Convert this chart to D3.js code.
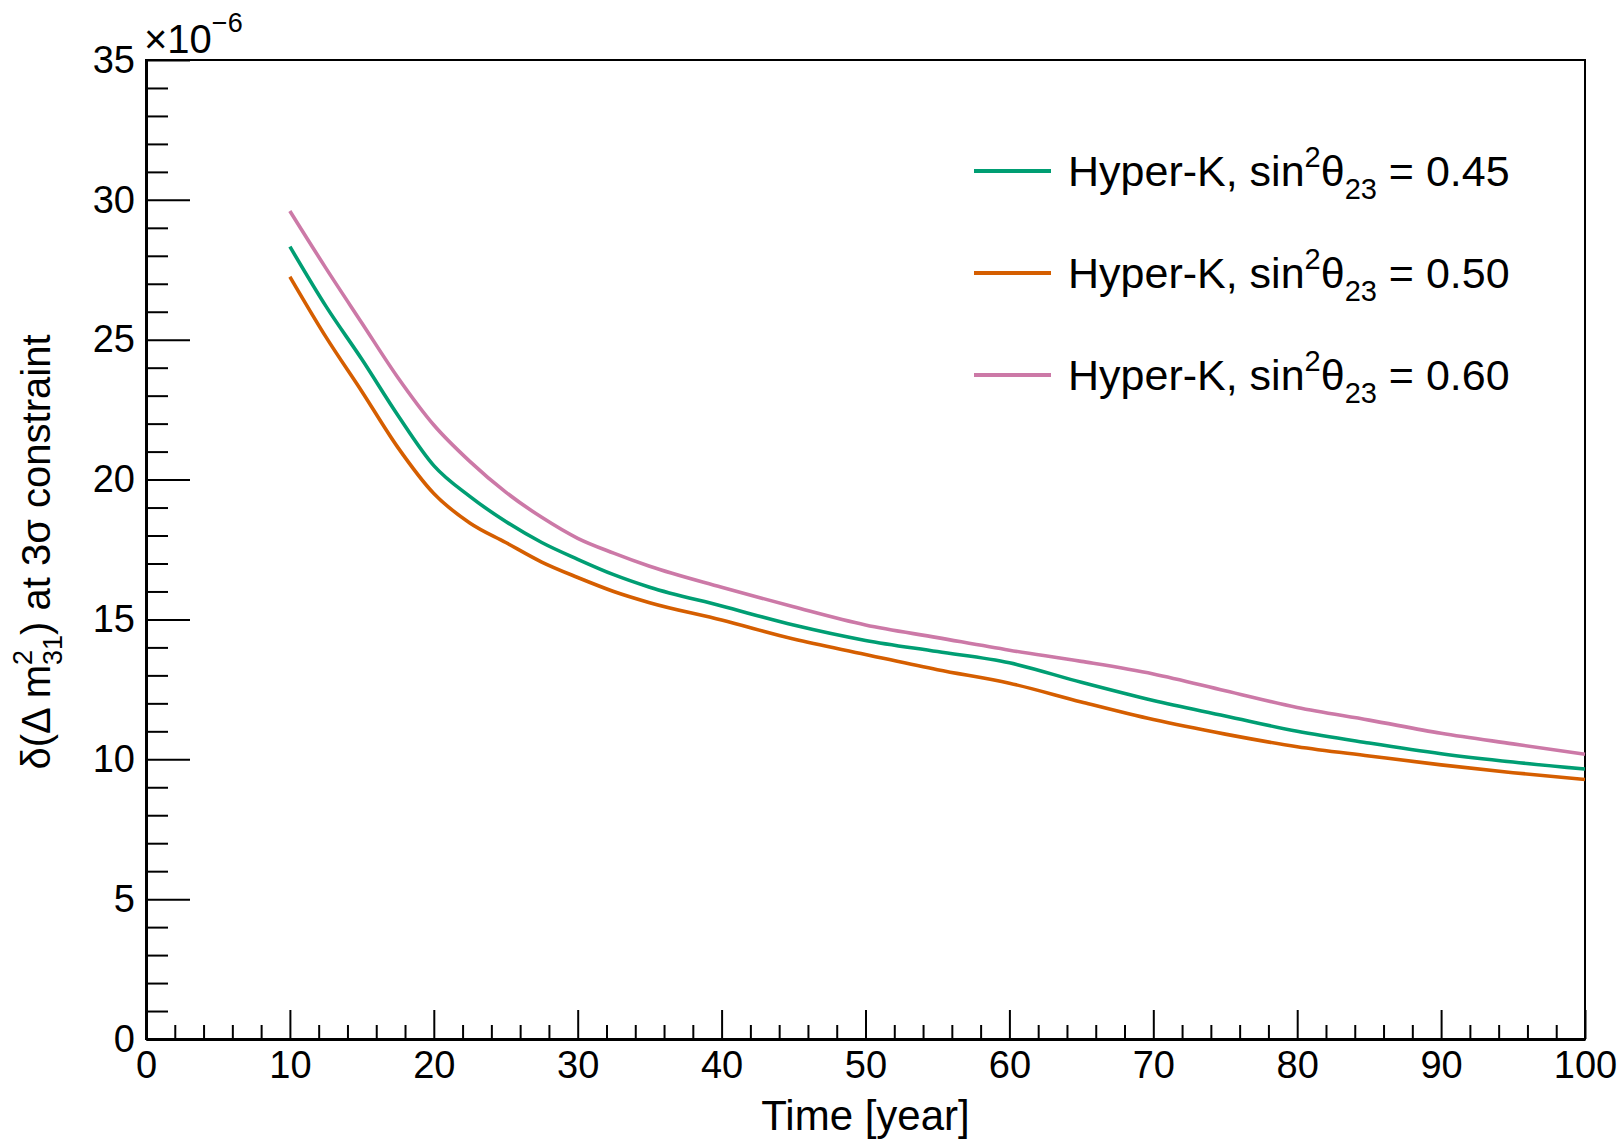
<!DOCTYPE html>
<html lang="en">
<head>
  <meta charset="UTF-8">
  <title>Hyper-K dm31 constraint</title>
  <style>
    body { margin: 0; background: #fff; }
    svg { display: block; font-family: "Liberation Sans", Arial, Helvetica, sans-serif; }
    .axis path, .axis line { stroke: #000; }
    .axis text { font-size: 38px; fill: #000; }
    .curve { fill: none; stroke-width: 3.6px; stroke-linejoin: round; }
  </style>
</head>
<body>
  <div id="chart"></div>

  <script src="https://d3js.org/d3.v7.min.js"></script>
  <script>
    // exposure time [year]
    const years = [10, 12.5, 15, 17.5, 20, 22.5, 25, 27.5, 30, 32.5, 35, 40, 45, 50,
                   55, 60, 65, 70, 75, 80, 85, 90, 95, 100];

    // delta(dm31^2) at 3 sigma, in units of 1e-6
    const s045 = [28.33, 26.2, 24.3, 22.3, 20.5, 19.4, 18.5, 17.75, 17.15, 16.6, 16.15, 15.48,
                  14.8, 14.25, 13.85, 13.45, 12.75, 12.1, 11.55, 11.0, 10.58, 10.2, 9.9, 9.65];
    const s050 = [27.25, 25.1, 23.15, 21.15, 19.5, 18.45, 17.75, 17.05, 16.5, 16.0, 15.6, 14.98,
                  14.3, 13.75, 13.2, 12.72, 12.05, 11.42, 10.9, 10.45, 10.12, 9.8, 9.52, 9.28];
    const s060 = [29.6, 27.56, 25.6, 23.65, 21.95, 20.65, 19.55, 18.65, 17.9, 17.37, 16.9, 16.15,
                  15.45, 14.8, 14.35, 13.9, 13.5, 13.05, 12.45, 11.85, 11.4, 10.93, 10.55, 10.18];

    const seriesNames = ["0.45", "0.50", "0.60"];
    const seriesColors = ["#009e73", "#d55e00", "#cc79a7"];

    const xMajor = d3.range(0, 101, 10);
    const xMinor = d3.range(0, 101, 2).filter(d => d % 10 !== 0);
    const yMajor = d3.range(0, 36, 5);
    const yMinor = d3.range(0, 36, 1).filter(d => d % 5 !== 0);

    const width = 1624, height = 1142;
    const pad = { left: 146, right: 1585, top: 60, bottom: 1039 };

    const svg = d3.select("#chart").append("svg")
      .attr("width", width)
      .attr("height", height);

    const x = d3.scaleLinear().domain([0, 100]).range([pad.left, pad.right]);
    const y = d3.scaleLinear().domain([0, 35]).range([pad.bottom, pad.top]);

    // frame
    svg.append("rect")
      .attr("x", pad.left).attr("y", pad.top)
      .attr("width", pad.right - pad.left).attr("height", pad.bottom - pad.top)
      .attr("fill", "none").attr("stroke", "#000").attr("stroke-width", 2);

    // x axis
    svg.append("g").attr("class", "axis")
      .attr("transform", `translate(0,${pad.bottom})`)
      .call(d3.axisBottom(x).tickValues(xMinor).tickSize(-14).tickFormat(""))
      .call(g => g.select(".domain").remove())
      .selectAll("line").attr("stroke-width", 2);
    svg.append("g").attr("class", "axis")
      .attr("transform", `translate(0,${pad.bottom})`)
      .call(d3.axisBottom(x).tickValues(xMajor).tickSize(-29).tickSizeOuter(0).tickPadding(12))
      .call(g => g.select(".domain").attr("stroke-width", 3))
      .call(g => g.selectAll("line").attr("stroke-width", 2));

    // y axis
    svg.append("g").attr("class", "axis")
      .attr("transform", `translate(${pad.left},0)`)
      .call(d3.axisLeft(y).tickValues(yMinor).tickSize(-22).tickFormat(""))
      .call(g => g.select(".domain").remove())
      .selectAll("line").attr("stroke-width", 2);
    svg.append("g").attr("class", "axis")
      .attr("transform", `translate(${pad.left},0)`)
      .call(d3.axisLeft(y).tickValues(yMajor).tickSize(-44).tickSizeOuter(0).tickPadding(11))
      .call(g => g.select(".domain").attr("stroke-width", 3))
      .call(g => g.selectAll("line").attr("stroke-width", 2));

    // exponent label
    const expo = svg.append("text")
      .attr("x", pad.left - 2).attr("y", 53)
      .attr("font-size", 40);
    expo.append("tspan").text("×10");
    expo.append("tspan").attr("font-size", 27).attr("dy", -21).text("−6");

    // axis titles
    svg.append("text")
      .attr("x", (pad.left + pad.right) / 2).attr("y", 1130)
      .attr("text-anchor", "middle")
      .attr("font-size", 42)
      .text("Time [year]");

    const yt = svg.append("text")
      .attr("transform", "translate(50,552) rotate(-90)")
      .attr("text-anchor", "middle")
      .attr("font-size", 40);
    yt.append("tspan").text("δ(Δ m");
    yt.append("tspan").attr("font-size", 27).attr("dy", -18).text("2");
    yt.append("tspan").attr("font-size", 27).attr("dx", -15).attr("dy", 30).text("31");
    yt.append("tspan").attr("dy", -12).text(") at 3σ constraint");

    // curves
    const line = d3.line()
      .x(d => x(d[0]))
      .y(d => y(d[1]))
      .curve(d3.curveMonotoneX);

    [s045, s050, s060].forEach((vals, i) => {
      svg.append("path")
        .attr("class", "curve")
        .attr("stroke", seriesColors[i])
        .attr("d", line(years.map((t, k) => [t, vals[k]])));
    });

    // legend
    const legend = svg.append("g");
    seriesNames.forEach((name, i) => {
      const ly = 171 + i * 102;
      legend.append("line")
        .attr("x1", 974).attr("x2", 1051)
        .attr("y1", ly).attr("y2", ly)
        .attr("stroke", seriesColors[i])
        .attr("stroke-width", 4);
      const t = legend.append("text")
        .attr("x", 1068).attr("y", ly + 15)
        .attr("font-size", 43);
      t.append("tspan").text("Hyper-K, sin");
      t.append("tspan").attr("font-size", 29).attr("dy", -19).text("2");
      t.append("tspan").attr("dy", 19).text("θ");
      t.append("tspan").attr("font-size", 29).attr("dy", 13).text("23");
      t.append("tspan").attr("dy", -13).text(" = " + name);
    });
  </script>
</body>
</html>
